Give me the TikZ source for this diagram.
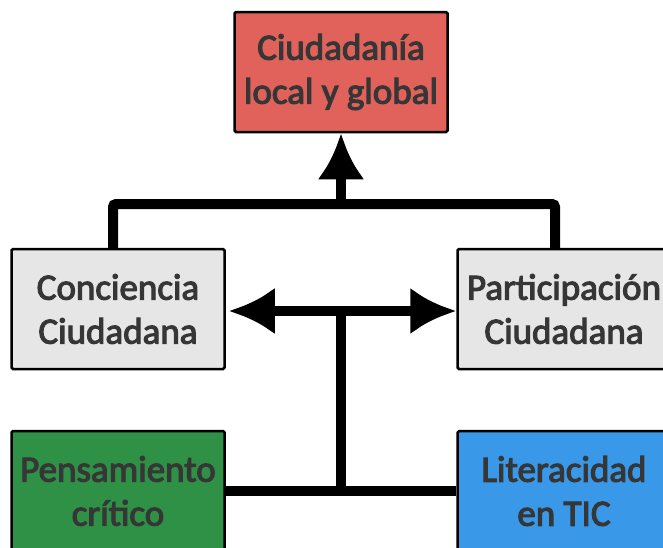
\documentclass[tikz,border=0pt]{standalone}
\usepackage{fontspec}
\setmainfont{Carlito}
\usetikzlibrary{arrows.meta}

\definecolor{boxred}{HTML}{E0625A}
\definecolor{boxgray}{HTML}{E6E6E6}
\definecolor{boxgreen}{HTML}{2E9146}
\definecolor{boxblue}{HTML}{3A98E8}
\definecolor{boxtext}{HTML}{363636}

\tikzset{
  box/.style={draw=black, line width=2.5pt, rounded corners=1.5pt,
    minimum width=213pt, minimum height=120pt, inner sep=0pt,
    align=center, text=boxtext,
    font=\fontsize{37}{44}\selectfont\addfontfeature{FakeBold=3}},
  link/.style={draw=black, line width=10pt},
  bigtip/.tip={Latex[length=46pt,width=47pt]}
}

\begin{document}
\begin{tikzpicture}[x=1pt,y=-1pt]
            \path[use as bounding box, clip] (0,0) rectangle (663,547);
            \node[box, fill=boxred] (ciudadania) at (341,72) {Ciudadanía\\local y global};
            \node[box, fill=boxgray] (conciencia) at (118,309) {Conciencia\\Ciudadana};
            \node[box, fill=boxgray] (participacion) at (564,309) {Participación\\Ciudadana};
            \node[box, fill=boxgreen] (pensamiento) at (118,491) {Pensamiento\\crítico};
            \node[box, fill=boxblue] (literacidad) at (564,491) {Literacidad\\en TIC};
            \coordinate (top) at (341,204);
            \coordinate (hub) at (341,311);
            \coordinate (base) at (341,490);
            \draw[link, rounded corners=3pt] ([xshift=-5pt]conciencia.north) |- (top) -| ([xshift=-9pt]participacion.north);
            \draw[link, arrows={-bigtip}] (top) -- (ciudadania.south);
            \draw[link, arrows={bigtip-bigtip}, shorten <=3pt] (conciencia.east |- hub) -- (participacion.west |- hub);
            \draw[link] (hub) -- (base);
            \draw[link] (pensamiento.east) -- (literacidad.west);
        \end{tikzpicture}
\end{document}
